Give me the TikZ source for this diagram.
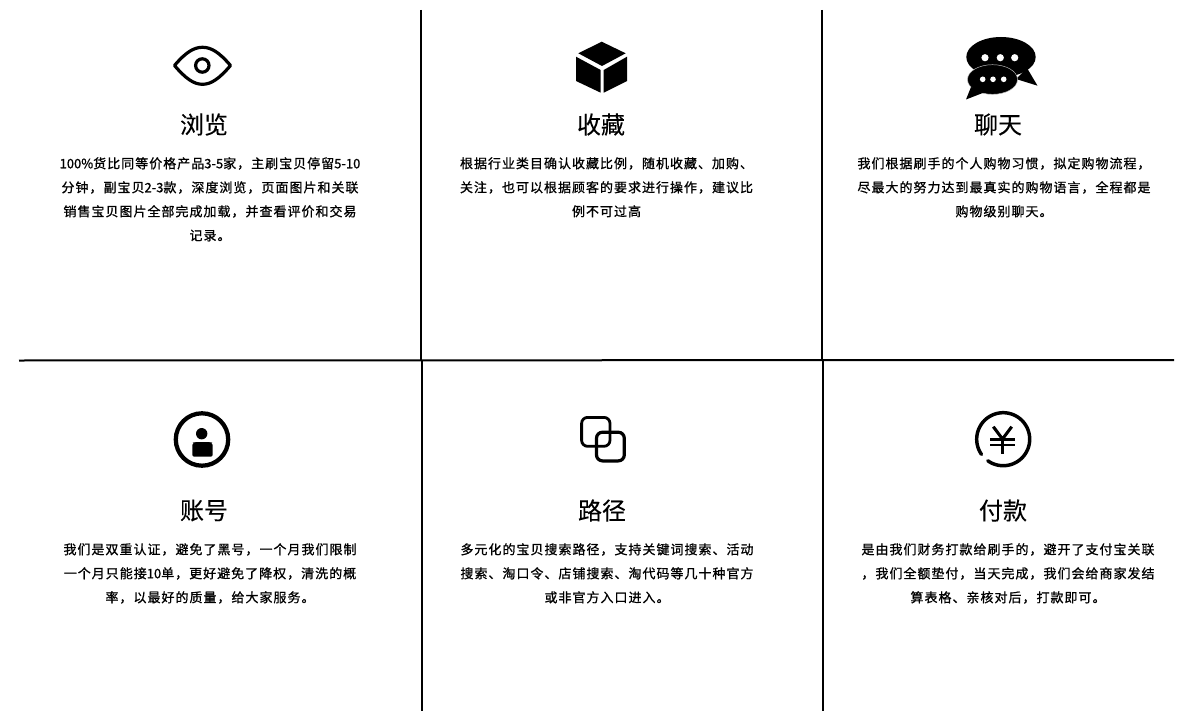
\documentclass[tikz,border=0pt]{standalone}
\usepackage{fontspec}
\newfontfamily\titlefont[FakeBold=0.15]{Noto Sans CJK SC}
\newfontfamily\bodyfont[LetterSpace=7.7,FakeBold=1.0]{Noto Sans CJK SC}
\newfontfamily\latinfont[FakeBold=1.0]{Noto Sans CJK SC}
\newcommand{\lat}[1]{{\latinfont\fontsize{9.75}{18}\selectfont #1}}
\tikzset{
  rule/.style={black,line width=1.5pt},
  titletext/.style={inner sep=0pt,font=\titlefont\fontsize{18}{20}\selectfont},
  bodytext/.style={inner sep=0pt,anchor=north,align=center,font=\bodyfont\fontsize{9.75}{18}\selectfont},
  iconline/.style={black,line width=2.4pt},
  iconfill/.style={fill=black,draw=none}
}
\begin{document}
\begin{tikzpicture}[x=0.75pt,y=-0.75pt]
\useasboundingbox (0,0) rectangle (1200,717);
% grid
\coordinate (v1a) at (421,10);\coordinate (v1b) at (421,360);\coordinate (v1c) at (422,360);\coordinate (v1d) at (422,711);
\coordinate (v2a) at (822,10);\coordinate (v2b) at (822,360);\coordinate (v2c) at (823,360);\coordinate (v2d) at (823,711);
\coordinate (hl) at (19,360.5);\coordinate (hr) at (1174,360);
\draw[rule] (v1a)--(v1b);\draw[rule] (v1c)--(v1d);
\draw[rule] (v2a)--(v2b);\draw[rule] (v2c)--(v2d);
\draw[rule] (hl)--(hr);
% eye
\draw[iconline,line join=round] (174.5,65.5) .. controls (186,52) and (194,47.3) .. (202.5,47.3) .. controls (211,47.3) and (219,52) .. (230.5,65.5) .. controls (219,79) and (211,84.3) .. (202.5,84.3) .. controls (194,84.3) and (186,79) .. (174.5,65.5) -- cycle;
\draw[iconline] (202.3,65.5) ellipse [x radius=6.7,y radius=6.7];
% cube
\fill[iconfill] (601.7,41.7)--(625.7,53.3)--(602,66)--(578.3,53.3)--cycle;
\fill[iconfill] (576,56.7)--(600.7,70)--(600.7,92.7)--(576,81)--cycle;
\fill[iconfill] (627,56.7)--(603.7,70)--(603.7,92.7)--(627,81)--cycle;
% chat
\fill[iconfill] (1001,57) ellipse [x radius=34.7,y radius=20];
\fill[iconfill] (1027,68)--(1037.5,85.7)--(1016,79)--cycle;
\fill[white] (985,57.7) circle [radius=3.6] (1000.3,57.7) circle [radius=3.6] (1014.7,57.7) circle [radius=3.6];
\fill[iconfill,draw=white!75!black,line width=0.35pt] (992.5,79.5) ellipse [x radius=25,y radius=14.8];
\fill[iconfill] (971,87)--(966,99.5)--(984,92.5)--cycle;
\fill[white] (982.7,79.3) circle [radius=2.8] (993,79.3) circle [radius=2.8] (1003.7,79.3) circle [radius=2.8];
% person
\draw[black,line width=3.2pt] (202,439.5) ellipse [x radius=26.2,y radius=26.2];
\fill[iconfill] (201.7,433.7) circle [radius=5.7];
\fill[iconfill,rounded corners=1.5pt] (192.3,443) -- (192.3,456.7) -- (212.7,456.7) -- (212.7,443) -- (210.5,442) -- (194.5,442) -- cycle;
% squares
\draw[black,line width=2.1pt,rounded corners=4.5pt] (581.6,417.4) rectangle (610,446.3);
\draw[black,line width=2.4pt,rounded corners=4.5pt] (596.5,432.2) rectangle (624.3,460.9);
% yen
\draw[black,line width=2.6pt,line cap=round] plot[domain=145:485.6,samples=90,smooth] ({1003.2+26.5*cos(\x)},{439.2+26.5*sin(\x)});
\draw[black,line width=2.3pt] (993.3,426.7)--(1002.5,439)--(1011.7,426.7);
\draw[black,line width=2.3pt] (1002.5,439)--(1002.5,453.5);
\draw[black,line width=1.9pt] (990,439.3)--(1015,439.3);
\draw[black,line width=1.9pt] (990,445)--(1015,445);
% titles
\node[titletext] (t1) at (204,124.5) {浏览};
\node[titletext] (t2) at (601,124.5) {收藏};
\node[titletext] (t3) at (998,124.5) {聊天};
\node[titletext] (t4) at (204,510.5) {账号};
\node[titletext] (t5) at (602,510.5) {路径};
\node[titletext] (t6) at (1003,510.5) {付款};
% bodies
\node[bodytext] (b1) at (210,157) {\lat{100\%}货比同等价格产品\lat{3-5}家，主刷宝贝停留\lat{5-10}\\分钟，副宝贝\lat{2-3}款，深度浏览，页面图片和关联\\销售宝贝图片全部完成加载，并查看评价和交易\\记录。};
\node[bodytext] (b2) at (606.5,157) {根据行业类目确认收藏比例，随机收藏、加购、\\关注，也可以根据顾客的要求进行操作，建议比\\例不可过高};
\node[bodytext] (b3) at (1004,157) {我们根据刷手的个人购物习惯，拟定购物流程，\\尽最大的努力达到最真实的购物语言，全程都是\\购物级别聊天。};
\node[bodytext] (b4) at (210,543) {我们是双重认证，避免了黑号，一个月我们限制\\一个月只能接\lat{10}单，更好避免了降权，清洗的概\\率，以最好的质量，给大家服务。};
\node[bodytext] (b5) at (607,543) {多元化的宝贝搜索路径，支持关键词搜索、活动\\搜索、淘口令、店铺搜索、淘代码等几十种官方\\或非官方入口进入。};
\node[bodytext] (b6) at (1008,543) {是由我们财务打款给刷手的，避开了支付宝关联\\，我们全额垫付，当天完成，我们会给商家发结\\算表格、亲核对后，打款即可。};
\end{tikzpicture}
\end{document}
